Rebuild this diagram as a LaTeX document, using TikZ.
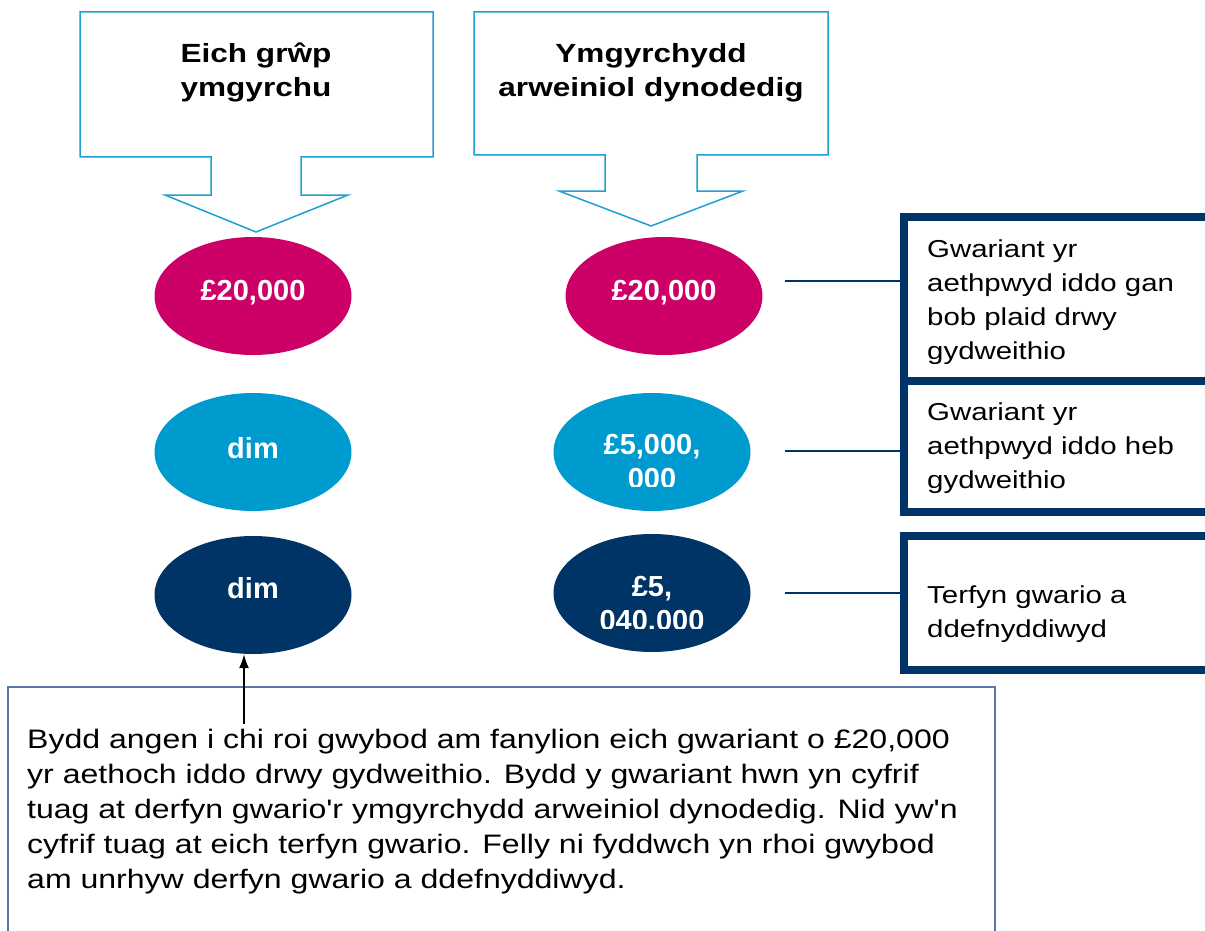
\documentclass[tikz,border=0pt]{standalone}
\usepackage{fontspec}
\setmainfont{Liberation Sans}
\newfontfamily\bodyfont{Liberation Sans}[FakeStretch=1.2]
\usetikzlibrary{shapes.geometric,arrows.meta}
\definecolor{pinkc}{RGB}{204,0,102}
\definecolor{cyanc}{RGB}{0,155,206}
\definecolor{navyc}{RGB}{0,51,102}
\definecolor{callc}{RGB}{30,160,210}
\definecolor{boxc}{RGB}{90,120,165}
\begin{document}
\begin{tikzpicture}[x=1pt,y=-1pt,
  callout/.style={draw=callc,line width=1.5pt,fill=white,line join=miter},
  titletext/.style={font=\bodyfont\bfseries\fontsize{26.3}{34}\selectfont,align=center,inner sep=0pt,anchor=base},
  blob/.style={ellipse,minimum width=197pt,minimum height=118pt,inner sep=0pt,draw=none},
  valtext/.style={font=\bfseries\fontsize{29}{34}\selectfont,text=white,inner sep=0pt,anchor=base},
  infobox/.style={draw=navyc,line width=8pt,minimum width=311pt,inner sep=0pt},
  infotext/.style={font=\bodyfont\fontsize{24.5}{34}\selectfont,align=left,inner sep=0pt,anchor=base west},
  tick/.style={draw=navyc,line width=1.5pt},
  notebox/.style={draw=boxc,line width=1.2pt,inner sep=0pt},
  notetext/.style={font=\bodyfont\fontsize{26.7}{35}\selectfont,align=left,inner sep=0pt,anchor=base west},
]
\clip (0,0) rectangle (1205,931);
\fill[white] (0,0) rectangle (1205,931);

% callouts (multi-line nodes: base anchor = last line baseline)
\draw[callout] (80,12) -- (433,12) -- (433,157) -- (301,157) -- (301,195) -- (348,195)
  -- (256,232) -- (165,195) -- (211,195) -- (211,157) -- (80,157) -- cycle;
\draw[callout] (474,12) -- (828,12) -- (828,155) -- (697,155) -- (697,191) -- (743,191)
  -- (651,226) -- (559,191) -- (605,191) -- (605,155) -- (474,155) -- cycle;
\node[titletext] (t1) at (256,97) {Eich grŵp\\ymgyrchu};
\node[titletext] (t2) at (651,97) {Ymgyrchydd\\arweiniol dynodedig};

% ellipses
\node[blob,fill=pinkc] (e1) at (253,296) {};
\node[blob,fill=cyanc] (e2) at (253,452) {};
\node[blob,fill=navyc] (e3) at (253,595) {};
\node[blob,fill=pinkc] (f1) at (664,296) {};
\node[blob,fill=cyanc] (f2) at (652,452) {};
\node[blob,fill=navyc] (f3) at (652,593) {};

\node[valtext] (v1) at (253,300) {£20,000};
\node[valtext] (v2) at (253,458) {dim};
\node[valtext] (v3) at (253,598) {dim};
\node[valtext] (v4) at (664,300) {£20,000};
\begin{scope}
  \clip (540,380) rectangle (770,486);
  \node[valtext,align=center] (v5) at (652,488) {£5,000,\\000};
\end{scope}
\begin{scope}
  \clip (540,530) rectangle (770,628);
  \node[valtext,align=center] (v6) at (652,630) {£5,\\040.000};
\end{scope}

% right boxes
\node[infobox,minimum height=164pt] (b1) at (1059.5,298.5) {};
\node[infobox,minimum height=131pt] (b2) at (1059.5,446) {};
\node[infobox,minimum height=134pt] (b3) at (1059.5,602.5) {};
\node[infotext] (x1) at (927,359) {Gwariant yr\\aethpwyd iddo gan\\bob plaid drwy\\gydweithio};
\node[infotext] (x2) at (927,488) {Gwariant yr\\aethpwyd iddo heb\\gydweithio};
\node[infotext] (x3) at (927,637) {Terfyn gwario a\\ddefnyddiwyd};

\coordinate (c1) at (785,281);
\coordinate (c2) at (785,451);
\coordinate (c3) at (785,593);
\draw[tick] (c1) -- (c1 -| b1.west);
\draw[tick] (c2) -- (c2 -| b2.west);
\draw[tick] (c3) -- (c3 -| b3.west);

% bottom note
\node[notebox,minimum width=987pt,minimum height=270pt] (nb) at (501.5,822) {};
\node[notetext] (nt) at (27,888) {Bydd angen i chi roi gwybod am fanylion eich gwariant o £20,000\\
yr aethoch iddo drwy gydweithio. Bydd y gwariant hwn yn cyfrif\\
tuag at derfyn gwario'r ymgyrchydd arweiniol dynodedig. Nid yw'n\\
cyfrif tuag at eich terfyn gwario. Felly ni fyddwch yn rhoi gwybod\\
am unrhyw derfyn gwario a ddefnyddiwyd.};

\coordinate (a0) at (244,724);
\draw[-{Latex[length=14pt,width=10pt]},line width=1.5pt] (a0) -- (a0 |- e3.south);
\end{tikzpicture}
\end{document}
